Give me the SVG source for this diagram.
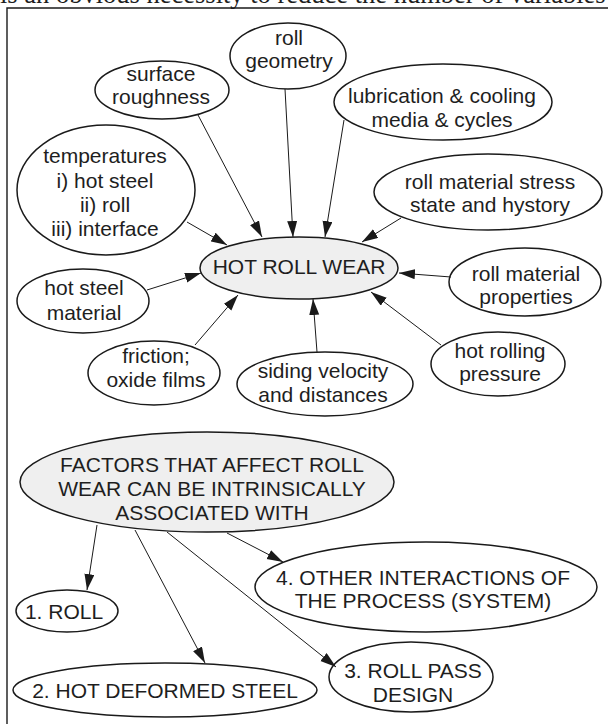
<svg xmlns="http://www.w3.org/2000/svg" width="608" height="724" viewBox="0 0 608 724">
<style>
.n ellipse{fill:#ffffff;stroke:#1a1a1a;stroke-width:1.5}
.n ellipse.g{fill:#efefef}
.n text{font-family:"Liberation Sans",Arial,sans-serif;font-size:21px;fill:#1e1e1e;text-anchor:middle}
.c line{stroke:#1a1a1a;stroke-width:1;marker-end:url(#ah)}
.frame{fill:none;stroke:#1a1a1a;stroke-width:1.4}
.top{font-family:"Liberation Serif","Times New Roman",serif;font-size:26.5px;fill:#1e1e1e}
</style>
<defs>
<marker id="ah" markerUnits="userSpaceOnUse" markerWidth="17" markerHeight="11" refX="16" refY="5" orient="auto">
<path d="M0,0 L16,5 L0,10 Z" fill="#1a1a1a"/>
</marker>
</defs>
<rect width="608" height="724" fill="#ffffff"/>
<text class="top" x="0" y="3">is an obvious necessity to reduce the number of variables</text>
<path class="frame" d="M7,730 L7,8 L615,8"/>

<g id="n-rollgeom" class="n"><ellipse cx="288" cy="56" rx="58" ry="33"/><text x="289" y="45">roll</text><text x="289" y="68">geometry</text></g>
<g id="n-surface" class="n"><ellipse cx="162" cy="90" rx="67" ry="29"/><text x="161" y="81">surface</text><text x="161" y="104">roughness</text></g>
<g id="n-lubrication" class="n"><ellipse cx="443" cy="102" rx="109" ry="38"/><text x="442" y="103">lubrication &amp; cooling</text><text x="442" y="127">media &amp; cycles</text></g>
<g id="n-temperatures" class="n"><ellipse cx="106" cy="190" rx="89" ry="65"/><text x="105" y="163">temperatures</text><text x="105" y="188">i) hot steel</text><text x="105" y="212">ii) roll</text><text x="105" y="236">iii) interface</text></g>
<g id="n-stress" class="n"><ellipse cx="488" cy="192" rx="114" ry="38"/><text x="490" y="189">roll material stress</text><text x="490" y="212">state and hystory</text></g>
<g id="n-wear" class="n"><ellipse class="g" cx="299" cy="268" rx="99" ry="31"/><text x="299" y="274">HOT ROLL WEAR</text></g>
<g id="n-hotsteel" class="n"><ellipse cx="83" cy="301" rx="66" ry="32"/><text x="84" y="295">hot steel</text><text x="84" y="320">material</text></g>
<g id="n-properties" class="n"><ellipse cx="525" cy="282" rx="76" ry="34"/><text x="526" y="281">roll material</text><text x="526" y="304">properties</text></g>
<g id="n-friction" class="n"><ellipse cx="154" cy="373" rx="66" ry="32"/><text x="156" y="363">friction;</text><text x="156" y="387">oxide films</text></g>
<g id="n-siding" class="n"><ellipse cx="325" cy="384" rx="88" ry="32"/><text x="323" y="378">siding velocity</text><text x="323" y="402">and distances</text></g>
<g id="n-pressure" class="n"><ellipse cx="498" cy="364" rx="67" ry="32"/><text x="500" y="358">hot rolling</text><text x="500" y="381">pressure</text></g>
<g id="n-factors" class="n"><ellipse class="g" cx="207" cy="482" rx="187" ry="50"/><text x="212" y="472">FACTORS THAT AFFECT ROLL</text><text x="212" y="496">WEAR CAN BE INTRINSICALLY</text><text x="212" y="520">ASSOCIATED WITH</text></g>
<g id="n-roll" class="n"><ellipse cx="67" cy="611" rx="51" ry="21"/><text x="64" y="619">1. ROLL</text></g>
<g id="n-steel" class="n"><ellipse cx="165" cy="690" rx="152" ry="27"/><text x="165" y="698">2. HOT DEFORMED STEEL</text></g>
<g id="n-pass" class="n"><ellipse cx="411" cy="677" rx="82" ry="35"/><text x="413" y="678">3. ROLL PASS</text><text x="413" y="702">DESIGN</text></g>
<g id="n-other" class="n"><ellipse cx="426" cy="587" rx="171" ry="45"/><text x="423" y="585">4. OTHER INTERACTIONS OF</text><text x="423" y="608">THE PROCESS (SYSTEM)</text></g>

<g id="connectors" class="c">
<line x1="198" y1="115" x2="262" y2="237"/>
<line x1="285" y1="89" x2="293" y2="237"/>
<line x1="344" y1="120" x2="325" y2="237"/>
<line x1="401" y1="218" x2="362" y2="242"/>
<line x1="451" y1="277" x2="399" y2="273"/>
<line x1="441" y1="345" x2="371" y2="292"/>
<line x1="317" y1="352" x2="313" y2="299"/>
<line x1="195" y1="345" x2="238" y2="295"/>
<line x1="147" y1="290" x2="201" y2="273"/>
<line x1="187" y1="222" x2="227" y2="245"/>
<line x1="97" y1="525" x2="87" y2="590"/>
<line x1="135" y1="530" x2="205" y2="663"/>
<line x1="167" y1="532" x2="336" y2="667"/>
<line x1="227" y1="533" x2="283" y2="562"/>
</g>
</svg>
